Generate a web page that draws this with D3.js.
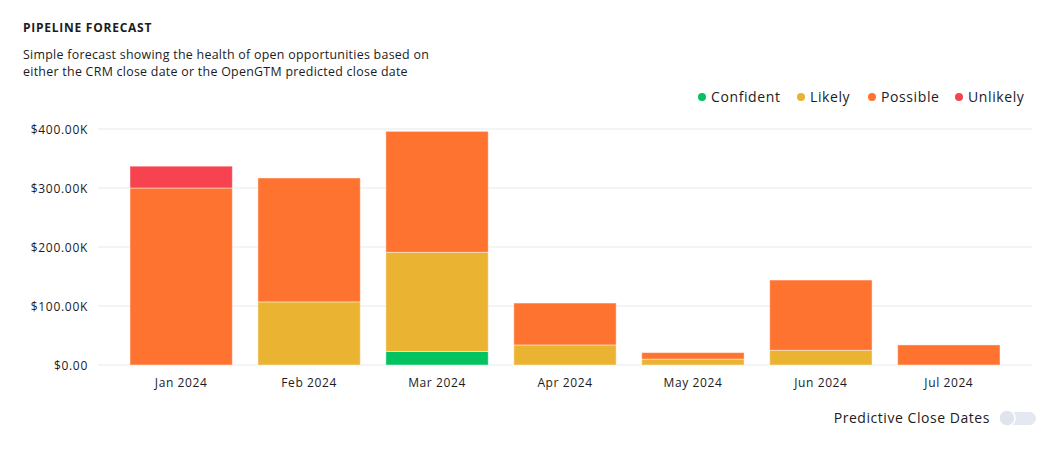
<!DOCTYPE html>
<html><head><meta charset="utf-8">
<script src="https://cdn.jsdelivr.net/npm/d3@7"></script>
<style>
body{margin:0;background:#fff;font-family:"Open Sans","Noto Sans",sans-serif;}
svg{display:block}
</style></head>
<body><svg id="c" width="1060" height="455"></svg>
<script>
const months = ["Jan 2024","Feb 2024","Mar 2024","Apr 2024","May 2024","Jun 2024","Jul 2024"];
const seriesNames = ["Confident","Likely","Possible","Unlikely"];
const seriesColors = ["#02c35f","#ebb332","#fe7330","#f6434f"];
const confident = [0,0,23,0,0,0,0];
const likely    = [0,107,168,34,10,25,0];
const possible  = [300,210,205,71,11,119,34];
const unlikely  = [37,0,0,0,0,0,0];
const yTicks = [0,100,200,300,400];

const svg = d3.select("#c");
const font = '"Open Sans","Noto Sans",sans-serif';
const ink = "#1b1b24";

svg.append("text").attr("x",23).attr("y",32).attr("font-size",12).attr("font-weight",700)
  .attr("letter-spacing",0.75).attr("fill",ink).attr("font-family",font).text("PIPELINE FORECAST");
svg.append("text").attr("x",23).attr("y",59).attr("font-size",12.4).attr("letter-spacing",0.28).attr("fill",ink).attr("font-family",font)
  .text("Simple forecast showing the health of open opportunities based on");
svg.append("text").attr("x",23).attr("y",76).attr("font-size",12.4).attr("letter-spacing",0.28).attr("fill",ink).attr("font-family",font)
  .text("either the CRM close date or the OpenGTM predicted close date");

const x = d3.scaleBand().domain(months).range([98,1032]).paddingInner(0.2).paddingOuter(0.25);
const y = d3.scaleLinear().domain([0,400]).range([365,129]);

// grid
svg.append("g").selectAll("line").data(yTicks).join("line")
  .attr("x1",98).attr("x2",1032).attr("y1",d=>y(d)).attr("y2",d=>y(d))
  .attr("stroke","#eef1f6").attr("stroke-width",1.5);

const fmt = v => v===0 ? "$0.00" : "$" + v.toFixed(2) + "K";
const yAxis = svg.append("g").attr("transform","translate(88,0)")
  .call(d3.axisLeft(y).tickValues(yTicks).tickFormat(fmt).tickSize(0).tickPadding(0));
yAxis.select(".domain").remove();
yAxis.selectAll("text").attr("font-size",12).attr("letter-spacing",0.7).attr("fill",ink).attr("font-family",font).attr("dy","0.35em");

const xAxis = svg.append("g").attr("transform","translate(0,365)")
  .call(d3.axisBottom(x).tickSize(0).tickPadding(13));
xAxis.select(".domain").remove();
xAxis.selectAll("text").attr("font-size",12).attr("letter-spacing",0.6).attr("fill",ink).attr("font-family",font);

const data = months.map((m,i)=>({month:m, Confident:confident[i], Likely:likely[i], Possible:possible[i], Unlikely:unlikely[i]}));
const stack = d3.stack().keys(seriesNames)(data);
const color = d3.scaleOrdinal().domain(seriesNames).range(seriesColors);

svg.append("g").selectAll("g").data(stack).join("g").attr("fill",d=>color(d.key))
  .selectAll("rect").data(d=>d.filter(p=>p[1]-p[0]>0)).join("rect")
  .attr("x",d=>x(d.data.month)).attr("width",x.bandwidth())
  .attr("y",d=>y(d[1])).attr("height",d=>y(d[0])-y(d[1]))
  .attr("stroke","rgba(255,255,255,0.45)").attr("stroke-width",1);

// legend
const legendX = [698,797,868,955];
const lg = svg.append("g");
seriesNames.forEach((s,i)=>{
  lg.append("circle").attr("cx",legendX[i]+4).attr("cy",97).attr("r",4).attr("fill",seriesColors[i]);
  lg.append("text").attr("x",legendX[i]+13).attr("y",97).attr("dy","0.35em").attr("font-size",14)
    .attr("letter-spacing",0.6).attr("fill",ink).attr("font-family",font).text(s);
});

// toggle
svg.append("text").attr("x",990).attr("y",418).attr("dy","0.35em").attr("text-anchor","end")
  .attr("font-size",14).attr("letter-spacing",0.55).attr("fill",ink).attr("font-family",font).text("Predictive Close Dates");
svg.append("rect").attr("x",1000).attr("y",412).attr("width",36).attr("height",13).attr("rx",6.5).attr("fill","#e4e8f0");
svg.append("circle").attr("cx",1007).attr("cy",418).attr("r",8).attr("fill","#e0e4ec").attr("stroke","#fff").attr("stroke-width",1.5);
</script></body></html>
